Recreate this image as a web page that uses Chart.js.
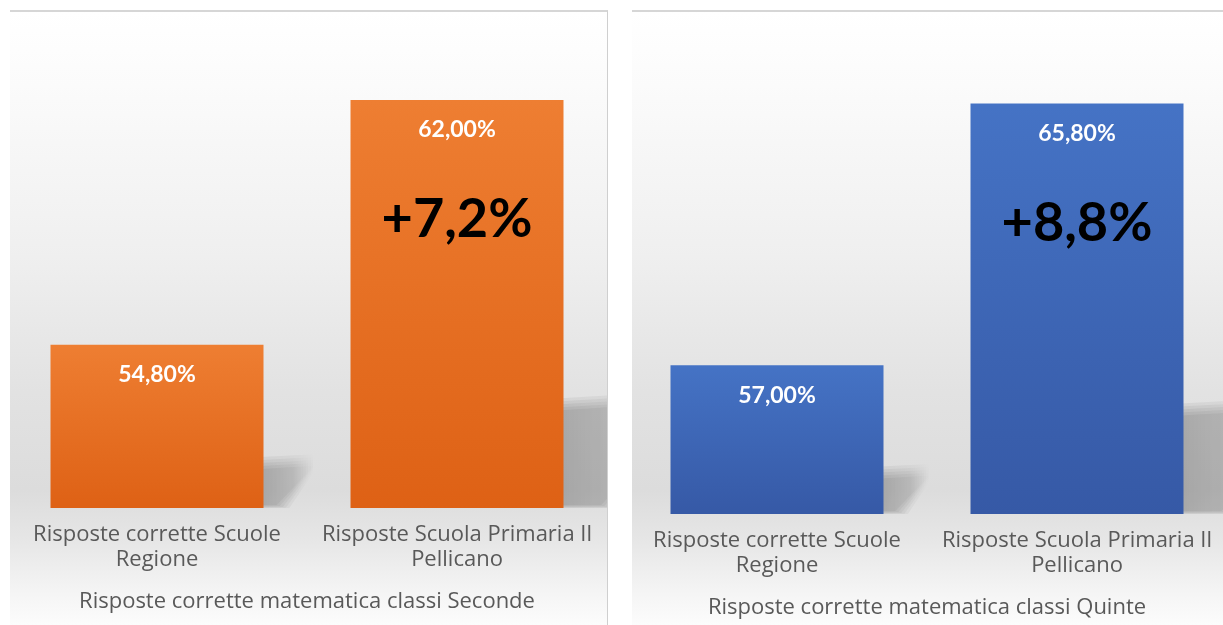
<!DOCTYPE html>
<html>
<head>
<meta charset="utf-8">
<script src="https://cdn.jsdelivr.net/npm/chart.js@4"></script>
<style>
    html, body { margin: 0; padding: 0; background: #fff; overflow: hidden; }
    body { width: 1223px; height: 625px; position: relative; }
    .panel {
        position: absolute;
        top: 10px;
        height: 615px;
        border-top: 2px solid #d6d6d6;
        box-sizing: border-box;
        background: linear-gradient(to bottom, #ffffff 0%, #fbfbfb 12%, #efefef 40%, #e2e2e2 62%, #dcdcdc 78%, #e6e6e6 86%, #f5f5f5 95%, #fcfcfc 100%);
    }
    #panelLeft { left: 10px; width: 598px; border-right: 1px solid #cfcfcf; }
    #panelRight { left: 632px; width: 591px; }
    .box { position: absolute; width: 600px; height: 615px; }
    #boxLeft { left: 7px; top: 10px; }
    #boxRight { left: 627px; top: 16px; }
</style>
</head>
<body>
<div class="panel" id="panelLeft"></div>
<div class="panel" id="panelRight"></div>
<div class="box" id="boxLeft"><canvas id="secondeChart"></canvas></div>
<div class="box" id="boxRight"><canvas id="quinteChart"></canvas></div>
<script>
// Data
const categories = [
    ['Risposte corrette Scuole', 'Regione'],
    ['Risposte Scuola Primaria Il', 'Pellicano']
];
const secondeValues = [54.8, 62.0];
const quinteValues = [57.0, 65.8];
const secondeRange = [50, 64];
const quinteRange = [52, 68];
const secondeTitle = 'Risposte corrette matematica classi Seconde';
const quinteTitle = 'Risposte corrette matematica classi Quinte';

const orange = ['#ee7e32', '#de6115'];
const blue = ['#4573c5', '#3659a6'];

function fmt(v, digits) {
    return v.toFixed(digits).replace('.', ',') + '%';
}

// vertical gradient per bar, from its top to the baseline
function barGradient(colors) {
    return function (ctx) {
        const chart = ctx.chart;
        if (!chart.chartArea) return colors[0];
        const y = chart.scales.y;
        const top = y.getPixelForValue(ctx.raw);
        const g = chart.ctx.createLinearGradient(0, top, 0, chart.chartArea.bottom);
        g.addColorStop(0, colors[0]);
        g.addColorStop(1, colors[1]);
        return g;
    };
}

// soft floor shadow behind each bar
const barShadow = {
    id: 'barShadow',
    beforeDatasetsDraw(chart) {
        const ctx = chart.ctx;
        const meta = chart.getDatasetMeta(0);
        const base = chart.chartArea.bottom;
        ctx.save();
        ctx.beginPath();
        ctx.rect(0, chart.chartArea.top, chart.width, base - chart.chartArea.top);
        ctx.clip();
        meta.data.forEach(bar => {
            const xr = bar.x + bar.width / 2 - 3;
            const h = base - bar.y;
            const g = ctx.createLinearGradient(xr, 0, xr + 0.33 * h, 0);
            g.addColorStop(0, 'rgba(0,0,0,0.055)');
            g.addColorStop(0.6, 'rgba(0,0,0,0.035)');
            g.addColorStop(1, 'rgba(0,0,0,0)');
            ctx.fillStyle = g;
            // stacked, slightly growing layers give a soft edge
            for (let k = 0; k < 5; k++) {
                const s = k * 3;
                ctx.beginPath();
                ctx.moveTo(xr, base - 3 + s * 0.3);
                ctx.lineTo(xr, base - 0.24 * h - s);
                ctx.lineTo(xr + 0.33 * h + s, base - 0.26 * h - s);
                ctx.lineTo(xr + 0.1 * h + s, base - 3 + s * 0.3);
                ctx.closePath();
                ctx.fill();
            }
        });
        ctx.restore();
    }
};

// value labels and the difference on the taller bar
const barLabels = {
    id: 'barLabels',
    afterDatasetsDraw(chart) {
        const ctx = chart.ctx;
        const meta = chart.getDatasetMeta(0);
        const values = chart.data.datasets[0].data;
        ctx.save();
        ctx.textAlign = 'center';
        ctx.textBaseline = 'middle';
        meta.data.forEach((bar, i) => {
            ctx.fillStyle = '#ffffff';
            ctx.font = 'bold 23px Lato';
            ctx.fillText(fmt(values[i], 2), bar.x, bar.y + 30);
        });
        const last = meta.data[meta.data.length - 1];
        const diff = values[values.length - 1] - values[0];
        ctx.fillStyle = '#000000';
        ctx.font = 'bold 54px Lato';
        ctx.fillText('+' + fmt(diff, 1), last.x, last.y + 120);
        ctx.restore();
    }
};

function makeChart(id, values, range, colors, title) {
    return new Chart(document.getElementById(id), {
        type: 'bar',
        data: {
            labels: categories,
            datasets: [{
                data: values,
                backgroundColor: barGradient(colors),
                borderWidth: 0,
                barPercentage: 0.71,
                categoryPercentage: 1.0
            }]
        },
        options: {
            responsive: true,
            maintainAspectRatio: false,
            animation: false,
            layout: { padding: { top: 22, bottom: 11, left: 0, right: 0 } },
            plugins: {
                legend: { display: false },
                tooltip: { enabled: false }
            },
            scales: {
                x: {
                    offset: true,
                    grid: { display: false, drawTicks: false },
                    border: { display: false },
                    ticks: {
                        padding: 14,
                        maxRotation: 0,
                        color: '#595959',
                        font: { family: 'Open Sans', size: 22, lineHeight: 1.15 }
                    },
                    title: {
                        display: true,
                        text: title,
                        color: '#595959',
                        padding: { top: 2, bottom: 0 },
                        font: { family: 'Open Sans', size: 22, lineHeight: 1.15 }
                    }
                },
                y: {
                    display: false,
                    min: range[0],
                    max: range[1]
                }
            }
        },
        plugins: [barShadow, barLabels]
    });
}

const secondeChart = makeChart('secondeChart', secondeValues, secondeRange, orange, secondeTitle);
const quinteChart = makeChart('quinteChart', quinteValues, quinteRange, blue, quinteTitle);
</script>
</body>
</html>
